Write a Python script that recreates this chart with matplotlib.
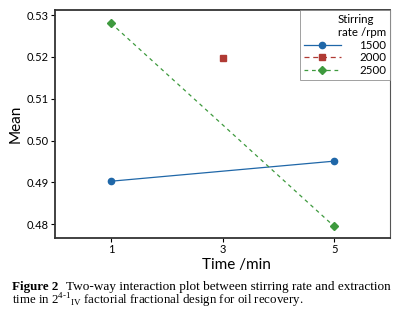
import numpy as np
import matplotlib
matplotlib.use('Agg')
import matplotlib.pyplot as plt

# Interaction plot data: mean per time level for each stirring rate
time_1500 = [1, 5]
mean_1500 = [0.4903, 0.4951]
time_2000 = [3]
mean_2000 = [0.5198]
time_2500 = [1, 5]
mean_2500 = [0.5281, 0.4795]

y_ticks = [0.48, 0.49, 0.50, 0.51, 0.52, 0.53]
x_ticks = [1, 3, 5]

plt.rcParams['font.family'] = ['Lato', 'DejaVu Sans']
plt.rcParams['mathtext.fontset'] = 'custom'
plt.rcParams['mathtext.rm'] = 'Liberation Serif'

fig = plt.figure(figsize=(3.96, 3.15), dpi=100)
ax = fig.add_axes([0.139, 0.244, 0.846, 0.724])

ax.plot(time_1500, mean_1500, '-', color='#1f67a8', lw=0.9, marker='o', ms=4.5, label='1500')
ax.plot(time_2000, mean_2000, '--', color='#b03a34', lw=0.9, marker='s', ms=4.5, label='2000',
        dashes=(4, 3))
ax.plot(time_2500, mean_2500, '--', color='#3e9a3e', lw=0.9, marker='D', ms=4.2, label='2500',
        dashes=(3, 3))

ax.set_xlim(0, 6)
ax.set_ylim(0.4767, 0.5312)
ax.set_xticks(x_ticks)
ax.set_yticks(y_ticks)
ax.set_yticklabels(['%.2f' % v for v in y_ticks])
ax.tick_params(labelsize=8, length=3, width=0.8, pad=1.5)

for s in ['left', 'bottom', 'top']:
    ax.spines[s].set_linewidth(1.3)
    ax.spines[s].set_color('#333333')
ax.spines['right'].set_linewidth(0.8)
ax.spines['right'].set_color('#555555')

ax.set_ylabel('Mean', fontsize=11, labelpad=3)
ax.set_xlabel('Time /min', fontsize=11, labelpad=3)
ax.xaxis.set_label_coords(0.54, -0.085)

leg = ax.legend(title='Stirring\nrate /rpm', fontsize=8.3, title_fontsize=8.3,
                loc='upper right', bbox_to_anchor=(1.0, 1.0), frameon=True,
                fancybox=False, edgecolor='#888888', markerfirst=True,
                handlelength=3.2, borderaxespad=0, labelspacing=0.15,
                alignment='right', borderpad=0.35, handletextpad=1.6)
leg.get_frame().set_linewidth(0.7)

# Caption
fig.text(0.03, 0.0898, 'Figure 2', fontsize=9.4, fontweight='bold',
         family='Liberation Serif', va='center')
fig.text(0.166, 0.0898, 'Two-way interaction plot between stirring rate and extraction',
         fontsize=9.5, family='Liberation Serif', va='center')
fig.text(0.03, 0.045, r'time in 2$^{4\text{-}1}{}_{\mathrm{IV}}$ factorial fractional design for oil recovery.',
         fontsize=9.3, family='Liberation Serif', va='center')

fig.savefig('out.png', dpi=100)
